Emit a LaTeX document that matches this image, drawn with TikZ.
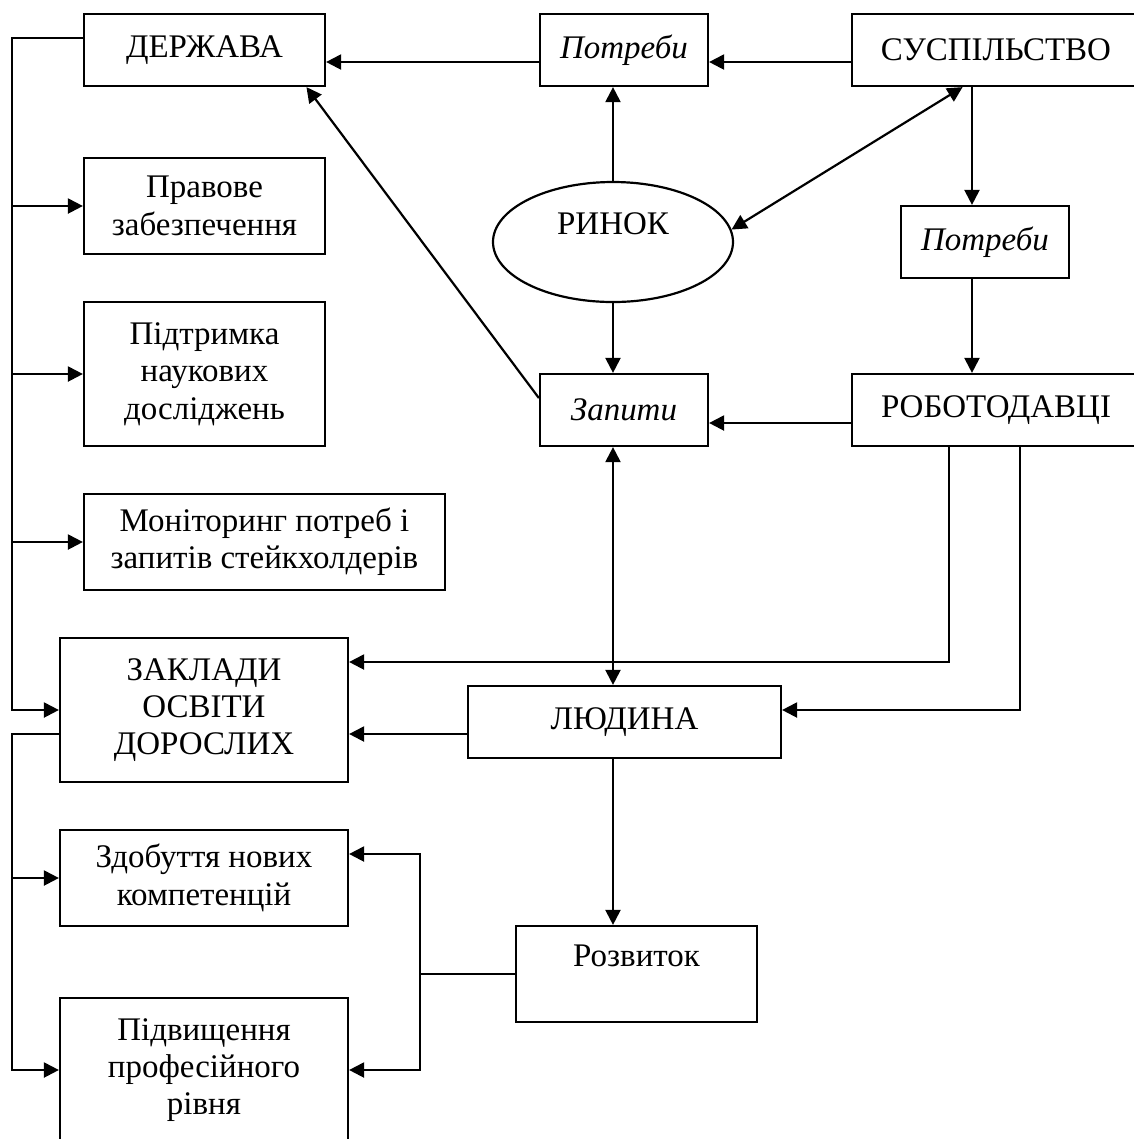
\documentclass[tikz,border=0pt]{standalone}
\usepackage{fontspec}
\setmainfont{Liberation Serif}
\usetikzlibrary{arrows.meta,shapes.geometric}

\tikzset{
    sz/.style n args={2}{minimum width=#1*0.364pt, minimum height=#2*0.364pt},
    it/.style={font=\fontsize{12}{13.6}\selectfont\itshape},
    arr/.style={-{Triangle[length=5.5pt, width=5.5pt]}},
    arrboth/.style={{Triangle[length=5.5pt, width=5.5pt]}-{Triangle[length=5.5pt, width=5.5pt]}}
}

\begin{document}
\begin{tikzpicture}[x=0.364pt, y=-0.364pt, line width=0.8pt,
    every node/.style={draw, align=center, font=\fontsize{12}{13.6}\selectfont}]
    \useasboundingbox (0,0) rectangle (1134,1139);

    % left column
    \node[sz={241}{72}] (derz) at (204.5,50) {ДЕРЖАВА};
    \node[sz={241}{96}] (pravo) at (204.5,206) {Правове\\забезпечення};
    \node[sz={241}{144}] (pidtr) at (204.5,374) {Підтримка\\наукових\\досліджень};
    \node[sz={361}{96}] (monit) at (264.5,542) {Моніторинг потреб і\\запитів стейкхолдерів};
    \node[sz={288}{144}] (zakl) at (204,710) {ЗАКЛАДИ\\ОСВІТИ\\ДОРОСЛИХ};
    \node[sz={288}{96}] (zdob) at (204,878) {Здобуття нових\\компетенцій};
    \node[sz={288}{144}] (pidv) at (204,1070) {Підвищення\\професійного\\рівня};

    % middle and right
    \node[sz={168}{72}, it] (potr1) at (624,50) {Потреби};
    \node[sz={288}{72}] (susp) at (996,50) {СУСПІЛЬСТВО};
    \node[ellipse, sz={240}{120}] (rynok) at (613,242) {РИНОК\\\mbox{}};
    \node[sz={168}{72}, it] (potr2) at (985,242) {Потреби};
    \node[sz={168}{72}, it] (zap) at (624,410) {Запити};
    \node[sz={288}{72}] (robot) at (996,410) {РОБОТОДАВЦІ};
    \node[sz={313}{72}] (liud) at (624.5,722) {ЛЮДИНА};
    \node[sz={241}{96}] (rozv) at (636.5,974) {Розвиток\\\mbox{}};

    % helper lines
    \coordinate (colL) at (12,0);
    \coordinate (colR) at (420,0);
    \coordinate (colS) at (972,0);
    \coordinate (colA) at (949,0);
    \coordinate (colB) at (1020,0);
    \coordinate (rowD) at (0,38);
    \coordinate (rowP) at (0,62);
    \coordinate (rowZ) at (0,423);
    \coordinate (rowE) at (0,662);
    \coordinate (rowH) at (0,710);
    \coordinate (rowL) at (0,734);
    \coordinate (rowC) at (0,854);

    \draw[arr] (susp.west |- rowP) -- (potr1.east |- rowP);
    \draw[arr] (potr1.west |- rowP) -- (derz.east |- rowP);
    \draw[arr] (rynok.north) -- (rynok.north |- potr1.south);
    \draw[arr] (rynok.south) -- (rynok.south |- zap.north);
    \draw[arrboth] (rynok.6) -- (susp.-132);
    \draw[arr] (zap.172) -- (derz.-20);
    \draw[arr] (colS |- susp.south) -- (colS |- potr2.north);
    \draw[arr] (colS |- potr2.south) -- (colS |- robot.north);
    \draw[arr] (robot.west |- rowZ) -- (zap.east |- rowZ);
    \draw[arrboth] (rynok |- zap.south) -- (rynok |- liud.north);
    \draw[arr] (rynok |- liud.south) -- (rynok |- rozv.north);
    \draw[arr] (colA |- robot.south) |- (zakl.east |- rowE);
    \draw[arr] (colB |- robot.south) |- (liud.east |- rowH);
    \draw[arr] (liud.west |- rowL) -- (zakl.east |- rowL);

    % state branches
    \draw[arr] (derz.west |- rowD) -| (colL |- zakl.west) -- (zakl.west);
    \draw[arr] (colL |- pravo.west) -- (pravo.west);
    \draw[arr] (colL |- pidtr.west) -- (pidtr.west);
    \draw[arr] (colL |- monit.west) -- (monit.west);

    % education and development
    \draw[arr] (zakl.west |- rowL) -| (colL |- pidv.west) -- (pidv.west);
    \draw[arr] (colL |- zdob.west) -- (zdob.west);
    \draw[arr] (rozv.west) -| (colR |- rowC) -- (zdob.east |- rowC);
    \draw[arr] (colR |- rozv.west) |- (pidv.east);
\end{tikzpicture}
\end{document}
